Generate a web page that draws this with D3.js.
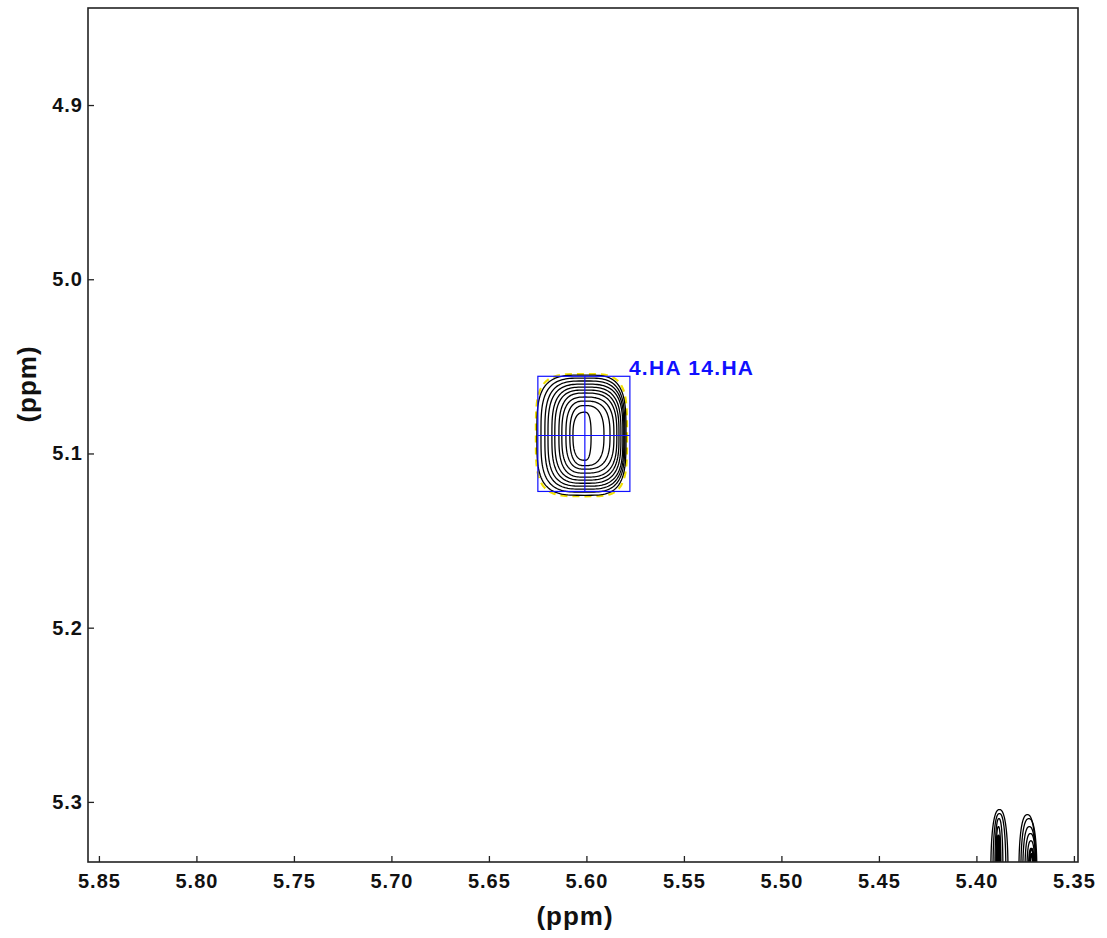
<!DOCTYPE html>
<html>
<head>
<meta charset="utf-8">
<script src="https://cdn.jsdelivr.net/npm/d3@7/dist/d3.min.js"></script>
<style>
  html, body { margin: 0; padding: 0; background: #fff; }
  svg { display: block; }
  text { font-family: "Liberation Sans", Arial, sans-serif; font-weight: bold; }
</style>
</head>
<body>
<svg id="chart" width="1107" height="938"></svg>
<script>
// ---- data ----
const xDomain = [5.8556, 5.3479];          // ppm, reversed (left to right)
const yDomain = [4.8443, 5.3345];          // ppm, increasing downward
const xTicks = [5.85, 5.80, 5.75, 5.70, 5.65, 5.60, 5.55, 5.50, 5.45, 5.40, 5.35];
const yTicks = [4.9, 5.0, 5.1, 5.2, 5.3];
const xTitle = "(ppm)";
const yTitle = "(ppm)";

// assigned cross peak
const peakLabel = "4.HA 14.HA";
const peakCenter = [5.6008, 5.0897];
const peakBox = [5.6249, 5.5777, 5.0557, 5.1218]; // left, right, top, bottom

// contour rings of the cross peak (outer -> inner), ppm
const ringLeft   = [5.6254, 5.6233, 5.6213, 5.6197, 5.6177, 5.6162, 5.6141, 5.6126, 5.6105, 5.6085, 5.6069];
const ringRight  = [5.5797, 5.5803, 5.5808, 5.5813, 5.5823, 5.5833, 5.5844, 5.5859, 5.5879, 5.5910, 5.5976];
const ringTop    = [5.0550, 5.0567, 5.0584, 5.0602, 5.0619, 5.0636, 5.0653, 5.0676, 5.0699, 5.0725, 5.0763];
const ringBottom = [5.1240, 5.1222, 5.1205, 5.1188, 5.1171, 5.1153, 5.1136, 5.1113, 5.1090, 5.1070, 5.1039];

// partial peaks at bottom-right edge (rings outer -> inner)
const edgePeakCenterY = 5.342;
const edgeA_left  = [5.3926, 5.3915, 5.3905, 5.3900, 5.3895, 5.3893];
const edgeA_right = [5.3838, 5.3849, 5.3864, 5.3874, 5.3879, 5.3881];
const edgeA_top   = [5.3044, 5.3067, 5.3096, 5.3142, 5.3194, 5.3240];
const edgeB_left  = [5.3782, 5.3772, 5.3762, 5.3751, 5.3741, 5.3731, 5.3726];
const edgeB_right = [5.3695, 5.3690, 5.3695, 5.3695, 5.3700, 5.3705, 5.3708];
const edgeB_top   = [5.3073, 5.3096, 5.3142, 5.3182, 5.3223, 5.3269, 5.3300];

// ---- layout ----
const svg = d3.select("#chart");
const plot = { left: 88, right: 1078, top: 8, bottom: 862 };

const x = d3.scaleLinear().domain(xDomain).range([plot.left, plot.right]);
const y = d3.scaleLinear().domain(yDomain).range([plot.top, plot.bottom]);

svg.append("defs").append("clipPath").attr("id", "clip")
  .append("rect")
  .attr("x", plot.left).attr("y", plot.top)
  .attr("width", plot.right - plot.left).attr("height", plot.bottom - plot.top);

const g = svg.append("g").attr("clip-path", "url(#clip)");

// superellipse ring through scaled extents
function ringPath(cx, cy, l, r, t, b, n) {
  const pts = [];
  const N = 160;
  for (let i = 0; i < N; i++) {
    const a = (i / N) * 2 * Math.PI;
    const c = Math.cos(a), s = Math.sin(a);
    const px = cx + Math.sign(c) * Math.pow(Math.abs(c), 2 / n) * (c >= 0 ? r - cx : cx - l);
    const py = cy + Math.sign(s) * Math.pow(Math.abs(s), 2 / n) * (s >= 0 ? b - cy : cy - t);
    pts.push([px, py]);
  }
  return d3.line().curve(d3.curveLinearClosed)(pts);
}

const cxPx = x(peakCenter[0]), cyPx = y(peakCenter[1]);

// yellow lowest level (peeking out at the box edges)
g.append("path")
  .attr("d", ringPath(cxPx, cyPx, x(ringLeft[0]) - 1, x(ringRight[0]) + 1, y(ringTop[0]) - 1, y(ringBottom[0]) + 1, 4))
  .attr("fill", "none").attr("stroke", "#f0e000").attr("stroke-width", 2.2)
  .attr("stroke-dasharray", "7,5");

// black contour rings of the cross peak
ringLeft.forEach((_, i) => {
  const n = 3.6 - i * 0.1;
  g.append("path")
    .attr("d", ringPath(cxPx, cyPx, x(ringLeft[i]), x(ringRight[i]), y(ringTop[i]), y(ringBottom[i]), n))
    .attr("fill", "none").attr("stroke", "#000").attr("stroke-width", 1.3);
});

// edge peaks
function drawEdge(L, R, T) {
  L.forEach((_, i) => {
    const l = x(L[i]), r = x(R[i]);
    const cx = (l + r) / 2;
    g.append("path")
      .attr("d", ringPath(cx, y(edgePeakCenterY), l, r, y(T[i]), y(edgePeakCenterY) + 30, 2.4))
      .attr("fill", "none").attr("stroke", "#000").attr("stroke-width", i >= L.length - 2 ? 2.2 : 1.3);
  });
}
drawEdge(edgeA_left, edgeA_right, edgeA_top);
drawEdge(edgeB_left, edgeB_right, edgeB_top);

// blue assignment box + crosshair
const blue = "#1010ff";
g.append("rect")
  .attr("x", x(peakBox[0])).attr("y", y(peakBox[2]))
  .attr("width", x(peakBox[1]) - x(peakBox[0]))
  .attr("height", y(peakBox[3]) - y(peakBox[2]))
  .attr("fill", "none").attr("stroke", blue).attr("stroke-width", 1.2);
g.append("line")
  .attr("x1", x(peakBox[0])).attr("x2", x(peakBox[1]))
  .attr("y1", cyPx).attr("y2", cyPx)
  .attr("stroke", blue).attr("stroke-width", 1.2);
g.append("line")
  .attr("x1", cxPx).attr("x2", cxPx)
  .attr("y1", y(peakBox[2])).attr("y2", y(peakBox[3]))
  .attr("stroke", blue).attr("stroke-width", 1.2);

svg.append("text")
  .attr("x", x(peakBox[1]) - 1).attr("y", y(peakBox[2]) - 1)
  .attr("fill", blue).attr("font-size", 21).attr("letter-spacing", 1.3)
  .text(peakLabel);

// axes
const xAxis = d3.axisBottom(x).tickValues(xTicks).tickFormat(d3.format(".2f"))
  .tickSizeInner(-6).tickSizeOuter(0).tickPadding(12);
const yAxis = d3.axisLeft(y).tickValues(yTicks).tickFormat(d3.format(".1f"))
  .tickSizeInner(-6).tickSizeOuter(0).tickPadding(5);

const gx = svg.append("g").attr("transform", `translate(0,${plot.bottom})`).call(xAxis);
const gy = svg.append("g").attr("transform", `translate(${plot.left},0)`).call(yAxis);
[gx, gy].forEach(a => {
  a.select(".domain").remove();
  a.selectAll(".tick line").attr("stroke", "#222").attr("stroke-width", 1.3);
  a.selectAll(".tick text").attr("fill", "#111").attr("font-size", 20)
    .attr("font-family", "'Liberation Sans', Arial, sans-serif").attr("font-weight", "bold")
    .attr("letter-spacing", 1);
});

// frame
svg.append("rect")
  .attr("x", plot.left).attr("y", plot.top)
  .attr("width", plot.right - plot.left).attr("height", plot.bottom - plot.top)
  .attr("fill", "none").attr("stroke", "#222").attr("stroke-width", 1.6);

// titles
svg.append("text")
  .attr("x", 575).attr("y", 925).attr("text-anchor", "middle")
  .attr("font-size", 26).attr("letter-spacing", 1).attr("fill", "#111")
  .text(xTitle);
svg.append("text")
  .attr("transform", "translate(36,384) rotate(-90)").attr("text-anchor", "middle")
  .attr("font-size", 26).attr("letter-spacing", 1).attr("fill", "#111")
  .text(yTitle);
</script>
</body>
</html>
